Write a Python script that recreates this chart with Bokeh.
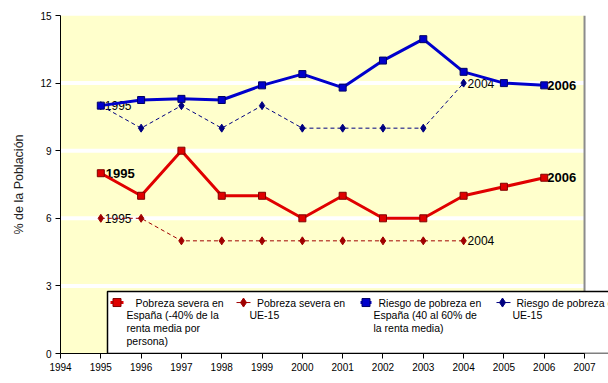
from bokeh.plotting import figure
from bokeh.models import Range1d, FixedTicker
from bokeh.core.properties import value
from bokeh.embed import file_html
from bokeh.resources import INLINE

# ---------------- data ----------------
years = [1995, 1996, 1997, 1998, 1999, 2000, 2001, 2002, 2003, 2004, 2005, 2006]
spain_severe = [8, 7, 9, 7, 7, 6, 7, 6, 6, 7, 7.4, 7.8]
spain_risk = [11.0, 11.25, 11.3, 11.25, 11.9, 12.4, 11.8, 13.0, 13.95, 12.5, 12.0, 11.9]
eu_years = [1995, 1996, 1997, 1998, 1999, 2000, 2001, 2002, 2003, 2004]
eu_severe = [6, 6, 5, 5, 5, 5, 5, 5, 5, 5]
eu_risk = [11, 10, 11, 10, 11, 10, 10, 10, 10, 12]

x_ticks = list(range(1994, 2008))
y_ticks = [0, 3, 6, 9, 12, 15]
y_label = "% de la Población"
legend_texts = [
    ["Pobreza severa en", "España (-40% de la", "renta media por", "persona)"],
    ["Pobreza severa en", "UE-15"],
    ["Riesgo de pobreza en", "España (40 al 60% de", "la renta media)"],
    ["Riesgo de pobreza en", "UE-15"],
]

RED = "#E00000"
RED_DARK = "#800000"
EU_RED = "#A00000"
BLUE = "#0000CC"
BLUE_DARK = "#000066"
NAVY = "#000080"
YELLOW = "#FFFFCC"
SANS = value("Liberation Sans")

# ---------------- layout helpers (image pixel -> data) ----------------
X_MIN, X_AXIS_END = x_ticks[0], x_ticks[-1]
PX_PER_YEAR = 40.31
PX_PER_UNIT = 22.53
FRAME_LEFT_IMG = 60
FRAME_TOP_IMG = 15
FIG_W, FIG_H = 608, 383
BORDER_L = FRAME_LEFT_IMG
BORDER_T = FRAME_TOP_IMG
FRAME_W = FIG_W - BORDER_L
FRAME_H = (y_ticks[-1] - y_ticks[0]) * PX_PER_UNIT
BORDER_B = FIG_H - BORDER_T - round(FRAME_H)


def px_x(px):
    return X_MIN + (px - FRAME_LEFT_IMG) / PX_PER_YEAR


def px_y(py):
    return y_ticks[-1] - (py - FRAME_TOP_IMG) / PX_PER_UNIT


p = figure(width=FIG_W, height=FIG_H, output_backend="svg", toolbar_location=None,
           x_range=Range1d(X_MIN, X_MIN + FRAME_W / PX_PER_YEAR),
           y_range=Range1d(y_ticks[0], y_ticks[-1]),
           min_border_left=BORDER_L, min_border_right=0,
           min_border_top=BORDER_T, min_border_bottom=BORDER_B)
p.outline_line_color = None
p.background_fill_color = "white"
p.border_fill_color = "white"
p.xgrid.visible = False
p.ygrid.visible = False

# axes
p.xaxis.ticker = FixedTicker(ticks=x_ticks)
p.xaxis.bounds = (X_MIN, X_AXIS_END)
p.yaxis.ticker = FixedTicker(ticks=y_ticks)
for ax in (p.xaxis[0], p.yaxis[0]):
    ax.axis_line_color = "black"
    ax.axis_line_width = 1
    ax.major_tick_line_color = "black"
    ax.major_tick_out = 5
    ax.major_tick_in = 0
    ax.minor_tick_line_color = None
    ax.major_label_text_font = "Liberation Sans"
    ax.major_label_text_font_size = "10px"
    ax.major_label_text_color = "black"
    ax.major_label_standoff = 4
p.yaxis.axis_label = y_label
p.yaxis.axis_label_text_font = "Liberation Sans"
p.yaxis.axis_label_text_font_size = "12.5px"
p.yaxis.axis_label_text_font_style = "normal"
p.yaxis.axis_label_text_color = "#222222"
p.yaxis.axis_label_standoff = 11

# plot area background and grid
p.quad(left=X_MIN, right=X_AXIS_END, bottom=y_ticks[0], top=y_ticks[-1],
       fill_color=YELLOW, line_color=None)
inner = y_ticks[1:-1]
p.segment(x0=[X_MIN] * len(inner), x1=[X_AXIS_END] * len(inner), y0=inner, y1=inner,
          line_color="white", line_width=4)
p.segment(x0=[X_AXIS_END], x1=[X_AXIS_END], y0=[y_ticks[0]], y1=[y_ticks[-1]],
          line_color="#8C8C8C", line_width=2)

# data labels (drawn below the lines)
p.text(x=[years[0]], y=[spain_severe[0]], text=[str(years[0])], x_offset=5,
       text_font=SANS, text_font_size="13px", text_font_style="bold",
       text_baseline="middle", text_color="black")
p.text(x=[years[-1], years[-1]], y=[spain_severe[-1], spain_risk[-1]],
       text=[str(years[-1])] * 2, x_offset=3,
       text_font=SANS, text_font_size="13px", text_font_style="bold",
       text_baseline="middle", text_color="black")
p.text(x=[eu_years[0], eu_years[0], eu_years[-1], eu_years[-1]],
       y=[eu_severe[0], eu_risk[0], eu_severe[-1], eu_risk[-1]],
       text=[str(eu_years[0])] * 2 + [str(eu_years[-1])] * 2, x_offset=4,
       text_font=SANS, text_font_size="12px",
       text_baseline="middle", text_color="black")

# series
p.line(eu_years, eu_severe, line_color=EU_RED, line_width=1, line_dash="4 3")
p.scatter(eu_years, eu_severe, marker="diamond", size=8, fill_color=EU_RED, line_color=EU_RED)
p.line(eu_years, eu_risk, line_color=NAVY, line_width=1, line_dash="4 3")
p.scatter(eu_years, eu_risk, marker="diamond", size=8, fill_color=NAVY, line_color=NAVY)
p.line(years, spain_severe, line_color=RED, line_width=3)
p.scatter(years, spain_severe, marker="square", size=7, fill_color=RED, line_color=RED_DARK)
p.line(years, spain_risk, line_color=BLUE, line_width=3)
p.scatter(years, spain_risk, marker="square", size=7, fill_color=BLUE, line_color=BLUE_DARK)

# ---------------- legend (drawn manually) ----------------
leg_top, leg_left = 291, 107
p.quad(left=px_x(leg_left), right=px_x(FRAME_LEFT_IMG + FRAME_W + 20),
       bottom=y_ticks[0], top=px_y(leg_top),
       fill_color="white", line_color="black", line_width=1.5)

line1 = 302
step = 12.7
items = [
    # (line x0, x1, marker x, first text x, other text x, style)
    (110, 123, 116.5, 135, 126, "sq_red"),
    (236, 250, 243, 256.5, 249, "di_red"),
    (360, 371, 365.5, 378, 373, "sq_blue"),
    (496, 510, 502, 516, 512, "di_blue"),
]
styles = {
    "sq_red": dict(color=RED, dark=RED_DARK, marker="square", size=8, lw=3),
    "di_red": dict(color=EU_RED, dark=EU_RED, marker="diamond", size=9, lw=1),
    "sq_blue": dict(color=BLUE, dark=BLUE_DARK, marker="square", size=8, lw=3),
    "di_blue": dict(color=NAVY, dark=NAVY, marker="diamond", size=9, lw=1),
}
for (x0, x1, mx, tx1, tx2, st), texts in zip(items, legend_texts):
    s = styles[st]
    p.segment(x0=[px_x(x0)], x1=[px_x(x1)], y0=[px_y(line1)], y1=[px_y(line1)],
              line_color=s["color"], line_width=s["lw"])
    p.scatter([px_x(mx)], [px_y(line1)], marker=s["marker"], size=s["size"],
              fill_color=s["color"], line_color=s["dark"])
    xs = [px_x(tx1)] + [px_x(tx2)] * (len(texts) - 1)
    ys = [px_y(line1 + i * step) for i in range(len(texts))]
    p.text(x=xs, y=ys, text=texts, text_font=SANS, text_font_size="10.5px",
           text_baseline="middle", text_color="black")

open("out.html", "w").write(file_html(p, INLINE))
